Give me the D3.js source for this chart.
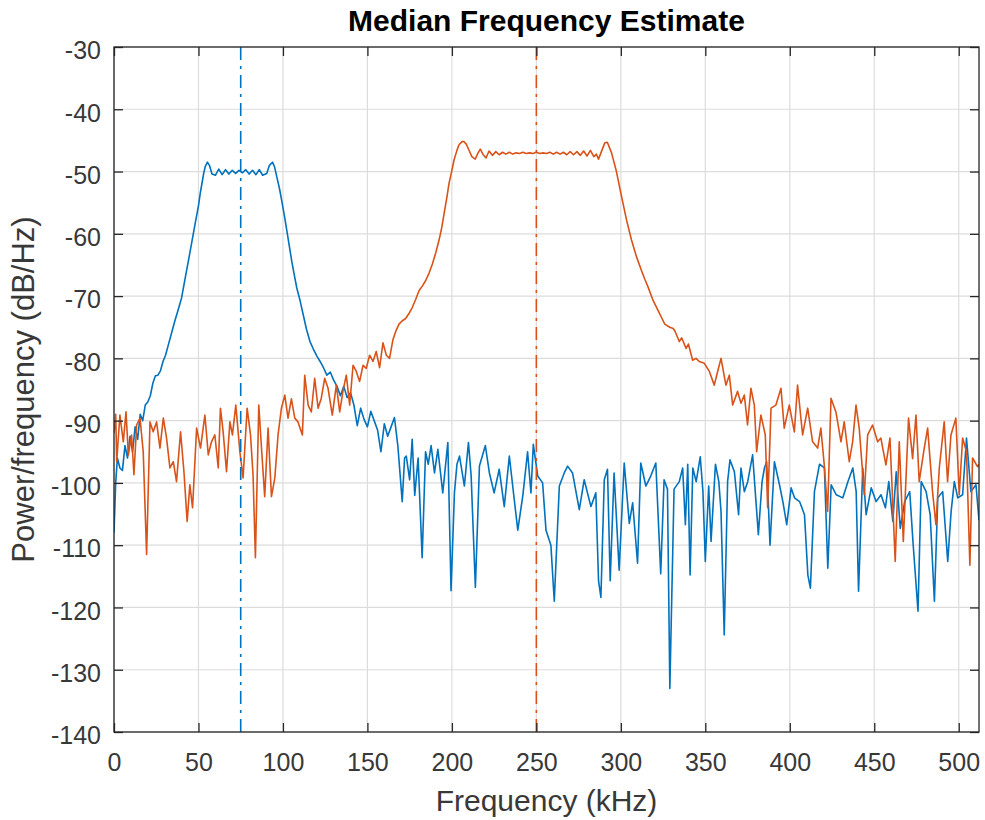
<!DOCTYPE html>
<html>
<head>
<meta charset="utf-8">
<script src="https://cdn.jsdelivr.net/npm/d3@7/dist/d3.min.js"></script>
<style>
  html, body { margin: 0; padding: 0; background: #ffffff; }
  svg { display: block; }
  text { font-family: "Liberation Sans", Arial, Helvetica, sans-serif; }
</style>
</head>
<body>
<svg id="chart" width="985" height="820"></svg>
<script>
// ---------------- DATA ----------------
const xTicks = [0, 50, 100, 150, 200, 250, 300, 350, 400, 450, 500];
const yTicks = [-140, -130, -120, -110, -100, -90, -80, -70, -60, -50, -40, -30];
const xDomain = [0, 512];
const yDomain = [-140, -30];

const titleText = "Median Frequency Estimate";
const xLabelText = "Frequency (kHz)";
const yLabelText = "Power/frequency (dB/Hz)";

// Median frequencies (kHz) for each series
const medianFreqs = [75, 250];

// Series 1 (blue): frequency (kHz) and power (dB/Hz)
const blueFreq = [0,1,2,3.5,5,6.5,8,9.5,11,12.5,14,15.5,17,18.5,20,21.5,23,24.5,26,27.5,29,30.5,32,34,36,38,40,42,44,46,48,50,51,52,53,54,55.3,56.5,58,60,62,64,66,68,70,72,74,76,78,80,82,84,86,88,90.4,92,93.8,95,96.4,98,99.3,100.8,102.3,103.8,105.2,106.7,108.2,110.2,112,114,116,118,120,122,124,126,128,130,132,134,136,138,140,142,144,146,148,150,152,154,156,158,160,162,164,166,168,170.6,172,173,175,176.5,178,180,182.4,184.4,186,187.7,189.7,191.7,194.6,197.6,199.5,201.5,203,204.5,207.4,209.8,211.4,213.9,216.3,219.8,222.2,225,228,231,234,236,239,242,244.8,246.8,248.2,250.8,253.7,255.7,258.6,260.6,263.6,266.5,268.5,271.4,275.4,278.3,282.3,285.2,286.8,288.2,290.2,292.1,293.7,296,299,302,305,307,309.9,311.8,314.8,317.7,320.7,323.6,325.6,327.6,329,331.5,334.6,336.6,338.2,339.6,341,342.6,344.6,347,348.6,350,352,353.4,356,358,359.3,361.2,363.2,364.6,367.2,369.7,371.1,373.1,375.1,378,381.4,383.6,385,386.3,388.3,390.9,393.9,395.9,398.2,400.8,402.8,405.8,408.7,410.7,412.2,414.6,417.6,420.5,422.5,424.5,427.5,431.4,434.4,437.3,439.3,440.7,443.2,445.2,448.2,451.1,454,456.6,458.6,461,463,465.4,468,471,472.9,475.9,477.8,480.7,483.1,485.6,487.6,490.5,493.5,495.5,497.4,499.4,502.3,504.6,507.2,510.2,512];
const bluePower = [-108,-100,-96,-97.6,-98,-94,-96,-92.5,-95,-91,-93,-89,-90,-87.5,-87,-86,-84,-82.8,-82.7,-82,-80.5,-79.5,-78,-76,-74,-72.2,-70.3,-67.3,-64.4,-61.4,-58.4,-55.5,-53.6,-52,-50.4,-49.2,-48.5,-49,-50.4,-50.6,-49.6,-50.5,-49.7,-50.4,-49.8,-50.3,-49.8,-50.2,-49.7,-50.4,-49.8,-50.5,-49.7,-50.6,-50.3,-49,-48.5,-49.2,-50.9,-52.8,-54.7,-57,-59.5,-62,-64.4,-66.6,-68.7,-70.8,-73,-75.4,-77.3,-78.5,-79.6,-80.5,-81.5,-82.7,-82.2,-83.5,-84.5,-86,-84.5,-86.3,-85.5,-87.5,-90.8,-88,-89.8,-91,-88.5,-90,-91.5,-95,-90.5,-92.5,-91,-89.5,-94,-103,-96,-95.7,-99.5,-93,-102,-96,-112,-95,-97,-94,-98.4,-94.6,-101.6,-93.5,-117.3,-101.6,-97,-95.7,-100.5,-93.5,-98.9,-116.8,-97.3,-94,-98.4,-101.6,-97.8,-103.8,-95.7,-100.5,-107.6,-102,-95,-101.6,-93.8,-98.9,-100,-107.6,-110,-119,-100.5,-98.4,-97.3,-98.4,-104.3,-99.5,-103.8,-101.6,-115.7,-118.4,-99.5,-97.8,-115.7,-98.4,-114,-96.8,-106.5,-103.2,-112.9,-96.8,-100.5,-98.9,-96.8,-114.6,-99.5,-101,-133,-101,-99.8,-97.6,-106.7,-97,-114.8,-97.6,-99.8,-95.8,-101.4,-112.6,-100.5,-109.4,-97,-99.8,-104.6,-124.4,-99.8,-96.3,-98.2,-105.1,-97.6,-101.4,-99.8,-95.5,-108.3,-99.8,-97.6,-96.6,-110,-96.6,-100.3,-103,-106.7,-100.8,-102.4,-103,-105.1,-114.8,-116.9,-101.4,-97,-97.6,-113.7,-100.3,-101.9,-102.4,-99.8,-97.6,-101.4,-117.4,-97.6,-105.1,-100.8,-103,-101.9,-104,-99.8,-106.2,-98.2,-107.3,-103,-101.4,-109.4,-120.6,-99.8,-101.4,-105.1,-119,-102.4,-101.4,-112.6,-104.6,-99.8,-102.4,-101.9,-92.8,-101.4,-100.3,-106];

// Series 2 (orange): frequency (kHz) and power (dB/Hz)
const orangeFreq = [0,1,1.6,3.5,5.5,7.1,8.5,10.4,11.8,13.4,15.4,17.3,19.3,21.3,23.2,25.2,27.2,29.2,31.1,33.1,35.1,37,39.4,41.4,43.3,44.9,46.5,48.9,51.2,53.8,55.8,57.7,59.7,61.7,63,64.6,66.6,68.6,70.1,72.1,74.5,76.4,78.8,80.8,82.3,83.7,85.7,87.3,89.2,91.2,93.2,95.2,97.1,99.1,101.1,103,105,107,108.9,111.5,112.9,114.9,116.8,118.8,120.8,122.7,124.7,126.7,129.2,131.6,133.6,135.5,137.5,139.5,141.5,143.4,145.4,147.4,149.3,151.3,153.3,155.2,157.2,159.2,161.2,163.1,165.1,167,168.7,170.5,172.6,174.6,176.6,178.6,180.6,182.5,184.5,186.5,188.5,190.5,192.4,194,195.4,197,198.3,200,201.3,203,204.2,206,207.2,208.5,210,211.8,213.8,215.5,216.8,218.5,220.2,222,224,226,228,230,232,234,236,238,240,242,244,246,248,250,252,254,256,258,260,262,264,266,268,270,272,274,276,278,280,282,284,285.5,286.8,288.5,290.5,292,294.5,297.4,300.4,303.4,306.3,309.3,312.2,314.2,316.2,319.1,322,324,326,329,331,332,334.6,336,338.6,340,342.5,344.5,346.4,349.4,352.4,355.3,357.3,359.3,362.2,364.2,366.2,369.1,371.1,373.1,375,377,379,380.4,382.9,385.5,386.9,388.9,391.8,394.8,396.7,399.7,402.7,404.6,407.6,410.6,413.5,416.5,418.4,420.4,422.4,424.4,427.3,430.3,432.2,435.2,437.2,439.2,441.1,444.1,446.1,449,452,453.9,456.9,459.3,462.4,464.8,467.2,470.3,472.7,474.7,476.6,479.6,481.6,484.5,486.5,488.5,491.4,493.4,495.4,498.3,500.3,502.3,504.6,506.6,508.2,511.1,512];
const orangePower = [-92,-89,-96.6,-89.1,-93.4,-88.6,-95.5,-92.3,-98.7,-90.7,-89.6,-95,-111.5,-90.2,-91.8,-90.2,-94.4,-89.6,-92.8,-97.6,-96.6,-99.8,-91.8,-98.2,-106.2,-100.3,-104,-91.2,-94.4,-89.1,-95.5,-93.4,-92.3,-97.6,-88,-91.8,-98.2,-90.2,-92.3,-87.5,-95,-99.2,-88,-92.3,-98.7,-112,-87.5,-94.4,-102.2,-91.2,-102.2,-99.2,-92.3,-88,-85.9,-89.6,-86.5,-89.6,-90.2,-92.3,-82.7,-87.5,-88.6,-83.2,-88,-86.4,-83.2,-84.8,-89.1,-84.3,-88.6,-85.3,-82.7,-87.5,-81.1,-82.1,-83.7,-81.1,-81.6,-79.5,-80.5,-78.9,-81.5,-77.5,-79.5,-80,-77,-75.5,-74.5,-74,-73.6,-72.8,-71.8,-70.5,-69.1,-68.4,-67.5,-66.3,-64.8,-63,-61,-59,-56.7,-54.2,-51.9,-49.8,-48.1,-46.6,-45.7,-45.2,-45.2,-45.6,-46.5,-47.6,-48,-47,-46.4,-47.3,-47.8,-46.7,-47.4,-46.8,-47.3,-46.9,-47.2,-46.9,-47.2,-47,-47.1,-46.9,-47.1,-47,-47.1,-46.9,-47.1,-47,-47.1,-46.9,-47.2,-46.9,-47.2,-46.9,-47.3,-46.8,-47.3,-46.8,-47.4,-46.7,-47.5,-46.6,-47.6,-47.2,-48,-46.8,-45.4,-45.3,-47,-50,-54,-57.8,-61,-63.7,-65.9,-67.3,-68.6,-70.7,-72.3,-73.4,-74.5,-75,-75.2,-75.6,-77.3,-76.7,-78.4,-77.7,-80.3,-80,-80.5,-80.8,-82.1,-84.3,-82.1,-80,-84.3,-82.7,-87.5,-85.3,-87.2,-85.9,-90.7,-84.8,-87.5,-95,-89.1,-92.3,-104,-88,-87.5,-84.8,-91.2,-87.5,-91.8,-84.3,-92.3,-88,-93.4,-94.4,-91.2,-97.1,-104.6,-86.4,-88.6,-93.4,-90.2,-96.6,-93.4,-87.5,-91.2,-101.9,-92.3,-90.7,-93.4,-92.8,-97.1,-92.8,-112.6,-93.4,-109.4,-89.6,-96.1,-89.1,-99.8,-94.4,-91.2,-101.4,-106.7,-97.6,-90.2,-99.8,-92.3,-89.6,-101.9,-92.8,-95,-113.2,-96,-97.4,-97];

const seriesColors = ["#0072BD", "#D95319"];

// ---------------- DRAW ----------------
const svg = d3.select("#chart");
const W = 985, H = 820;
const plot = { left: 114, top: 47, right: 979, bottom: 732 };

const x = d3.scaleLinear().domain(xDomain).range([plot.left, plot.right]);
const y = d3.scaleLinear().domain(yDomain).range([plot.bottom, plot.top]);

svg.append("rect").attr("x", 0).attr("y", 0).attr("width", W).attr("height", H).attr("fill", "#ffffff");

svg.append("defs").append("clipPath").attr("id", "clip")
  .append("rect")
  .attr("x", plot.left).attr("y", plot.top)
  .attr("width", plot.right - plot.left).attr("height", plot.bottom - plot.top);

// grid
const grid = svg.append("g").attr("class", "grid");
grid.selectAll("line.vx").data(xTicks).join("line")
  .attr("x1", d => x(d)).attr("x2", d => x(d))
  .attr("y1", plot.top).attr("y2", plot.bottom)
  .attr("stroke", "#dcdcdc").attr("stroke-width", 1.2);
grid.selectAll("line.hy").data(yTicks).join("line")
  .attr("x1", plot.left).attr("x2", plot.right)
  .attr("y1", d => y(d)).attr("y2", d => y(d))
  .attr("stroke", "#dcdcdc").attr("stroke-width", 1.2);

// series
const line = d3.line().x(d => x(d[0])).y(d => y(d[1]));
const series = [
  d3.zip(blueFreq, bluePower),
  d3.zip(orangeFreq, orangePower)
];
const sg = svg.append("g").attr("clip-path", "url(#clip)");
series.forEach((s, i) => {
  sg.append("path").datum(s)
    .attr("d", line)
    .attr("fill", "none")
    .attr("stroke", seriesColors[i])
    .attr("stroke-width", 1.6)
    .attr("stroke-linejoin", "round");
});

// median lines
medianFreqs.forEach((m, i) => {
  sg.append("line")
    .attr("x1", x(m)).attr("x2", x(m))
    .attr("y1", plot.bottom).attr("y2", plot.top)
    .attr("stroke", seriesColors[i])
    .attr("stroke-width", 1.6)
    .attr("stroke-dasharray", "13,6,3,6");
});

// axes (D3 axes with inward ticks)
const axisColor = "#262626";
const tickLen = 9;
const fmt = d => String(d);   // plain hyphen-minus, as in the reference
const bottomAxis = d3.axisBottom(x).tickValues(xTicks).tickSizeInner(-tickLen).tickSizeOuter(0).tickPadding(20).tickFormat(fmt);
const topAxis = d3.axisTop(x).tickValues(xTicks).tickSizeInner(-tickLen).tickSizeOuter(0).tickFormat("");
const leftAxis = d3.axisLeft(y).tickValues(yTicks).tickSizeInner(-tickLen).tickSizeOuter(0).tickPadding(13).tickFormat(fmt);
const rightAxis = d3.axisRight(y).tickValues(yTicks).tickSizeInner(-tickLen).tickSizeOuter(0).tickFormat("");

function styleAxis(g) {
  g.select(".domain").remove();
  g.selectAll(".tick line").attr("stroke", axisColor).attr("stroke-width", 1.3);
  g.selectAll(".tick text").attr("fill", "#383838").attr("font-size", 25)
    .attr("font-family", "'Liberation Sans', Arial, Helvetica, sans-serif");
}

const gb = svg.append("g").attr("transform", `translate(0,${plot.bottom})`).call(bottomAxis).call(styleAxis);
gb.selectAll(".tick text").attr("dy", "0.71em").attr("y", 21);
svg.append("g").attr("transform", `translate(0,${plot.top})`).call(topAxis).call(styleAxis);
const gl = svg.append("g").attr("transform", `translate(${plot.left},0)`).call(leftAxis).call(styleAxis);
gl.selectAll(".tick text").attr("dy", "0.47em");
svg.append("g").attr("transform", `translate(${plot.right},0)`).call(rightAxis).call(styleAxis);

// box
svg.append("rect")
  .attr("x", plot.left).attr("y", plot.top)
  .attr("width", plot.right - plot.left).attr("height", plot.bottom - plot.top)
  .attr("fill", "none").attr("stroke", axisColor).attr("stroke-width", 1.3);

// title & labels
svg.append("text")
  .attr("x", (plot.left + plot.right) / 2).attr("y", 31)
  .attr("text-anchor", "middle")
  .attr("font-size", 30).attr("font-weight", "bold").attr("fill", "#000000")
  .text(titleText);

svg.append("text")
  .attr("x", (plot.left + plot.right) / 2).attr("y", 811)
  .attr("text-anchor", "middle")
  .attr("font-size", 30).attr("fill", "#383838")
  .text(xLabelText);

svg.append("text")
  .attr("transform", `translate(34,${(plot.top + plot.bottom) / 2}) rotate(-90)`)
  .attr("text-anchor", "middle")
  .attr("font-size", 31).attr("fill", "#383838")
  .text(yLabelText);
</script>
</body>
</html>
